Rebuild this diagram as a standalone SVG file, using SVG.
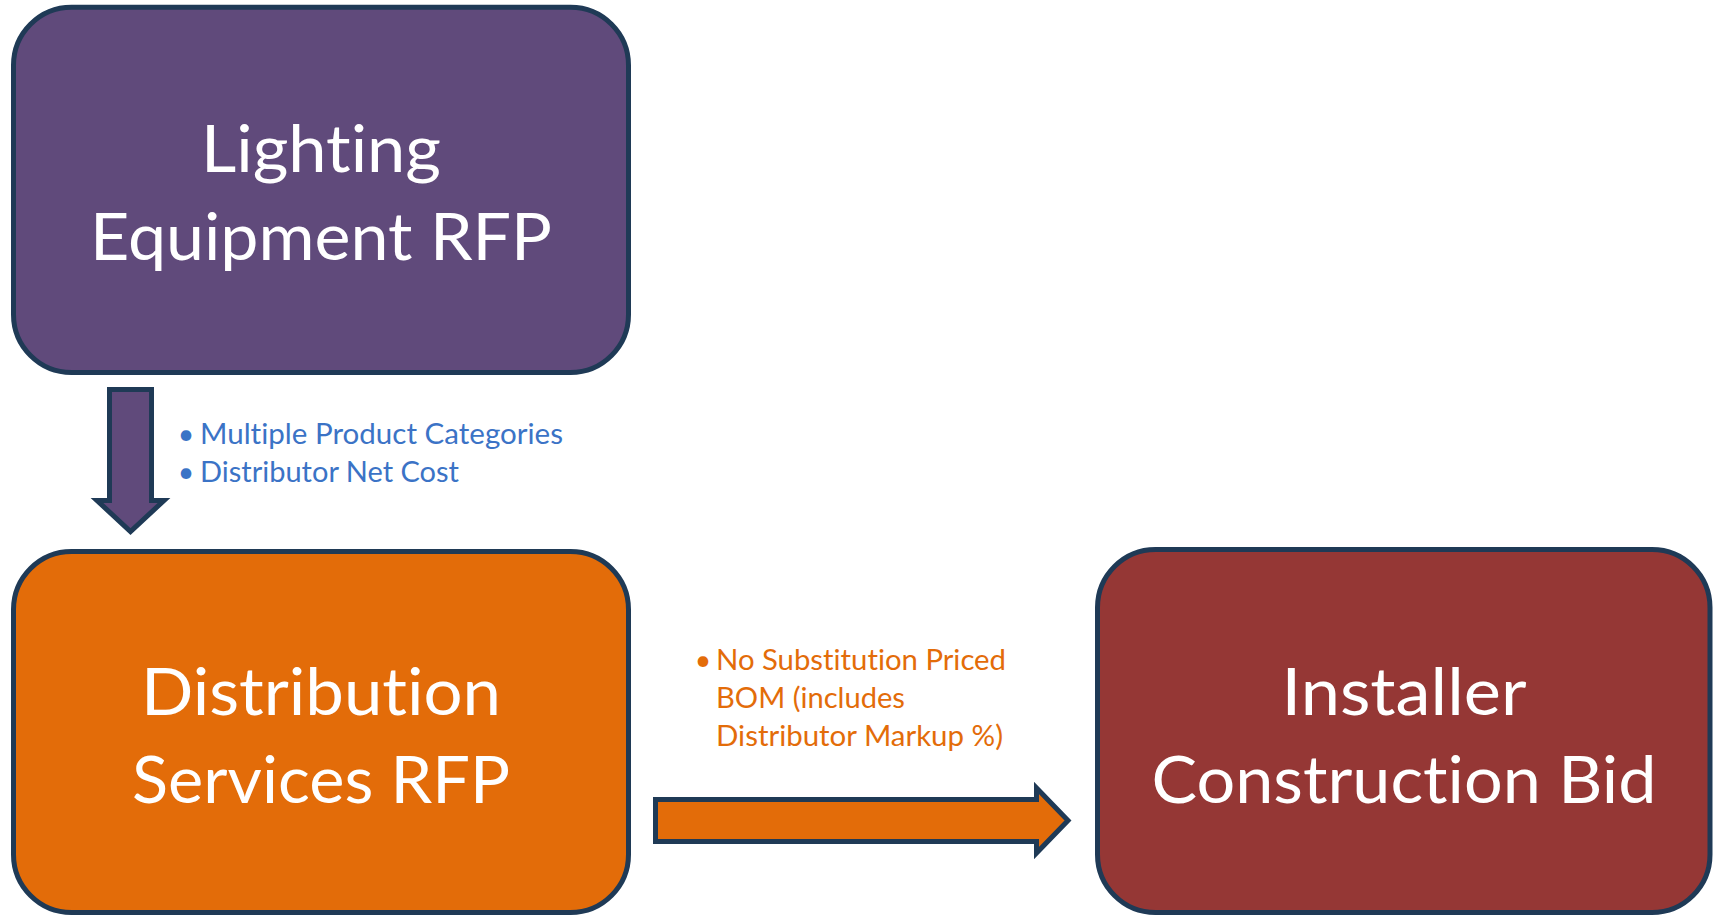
<svg xmlns="http://www.w3.org/2000/svg" width="1721" height="916" viewBox="0 0 1721 916">
<style>
.box{stroke:#1F3A56;stroke-width:5}
.arrow{stroke:#1F3A56;stroke-width:5;stroke-linejoin:miter;stroke-miterlimit:10}
.title{font-family:Lato,"Open Sans","Liberation Sans",sans-serif;font-size:66px;fill:#FFFFFF;text-anchor:middle;font-variant-ligatures:none;font-feature-settings:"liga" 0,"clig" 0}
.note{font-family:Lato,"Open Sans","Liberation Sans",sans-serif;font-size:28.5px;font-variant-ligatures:none;font-feature-settings:"liga" 0,"clig" 0}
.blue{fill:#3B73C6}
.orange{fill:#E36C09}
</style>
<rect width="1721" height="916" fill="#FFFFFF"/>
<g id="connectors">
  <path class="arrow" d="M109.5 389.5 H151.5 V500.5 H164 L130.5 531.5 L97 500.5 H109.5 Z" fill="#604A7B"/>
  <path class="arrow" d="M655.5 799.5 H1036.5 V788 L1068 820.5 L1036.5 853 V841.5 H655.5 Z" fill="#E36C09"/>
  <g id="label-equipment">
    <text class="note blue" x="186" y="444" text-anchor="middle">•</text>
    <text class="note blue" x="200" y="444" textLength="363" lengthAdjust="spacingAndGlyphs">Multiple Product Categories</text>
    <text class="note blue" x="186" y="482" text-anchor="middle">•</text>
    <text class="note blue" x="200" y="482" textLength="259" lengthAdjust="spacingAndGlyphs">Distributor Net Cost</text>
  </g>
  <g id="label-distribution">
    <text class="note orange" x="703" y="670" text-anchor="middle">•</text>
    <text class="note orange" x="716" y="670" textLength="290" lengthAdjust="spacingAndGlyphs">No Substitution Priced</text>
    <text class="note orange" x="716" y="708" textLength="189" lengthAdjust="spacingAndGlyphs">BOM (includes</text>
    <text class="note orange" x="716" y="746" textLength="287" lengthAdjust="spacingAndGlyphs">Distributor Markup %)</text>
  </g>
</g>
<g id="node-lighting">
  <rect class="box" x="13.5" y="7.2" width="615" height="365.3" rx="58" ry="58" fill="#604A7B"/>
  <text class="title" x="321" y="172" textLength="240" lengthAdjust="spacingAndGlyphs">Lighting</text>
  <text class="title" x="321" y="260" textLength="462" lengthAdjust="spacingAndGlyphs">Equipment RFP</text>
</g>
<g id="node-distribution">
  <rect class="box" x="13.5" y="551.5" width="615" height="361" rx="58" ry="58" fill="#E36C09"/>
  <text class="title" x="321" y="715" textLength="360" lengthAdjust="spacingAndGlyphs">Distribution</text>
  <text class="title" x="321" y="803" textLength="378" lengthAdjust="spacingAndGlyphs">Services RFP</text>
</g>
<g id="node-installer">
  <rect class="box" x="1097.5" y="549.5" width="612.5" height="363" rx="58" ry="58" fill="#953735"/>
  <text class="title" x="1404" y="715" textLength="245" lengthAdjust="spacingAndGlyphs">Installer</text>
  <text class="title" x="1404" y="803" textLength="505" lengthAdjust="spacingAndGlyphs">Construction Bid</text>
</g>
</svg>
